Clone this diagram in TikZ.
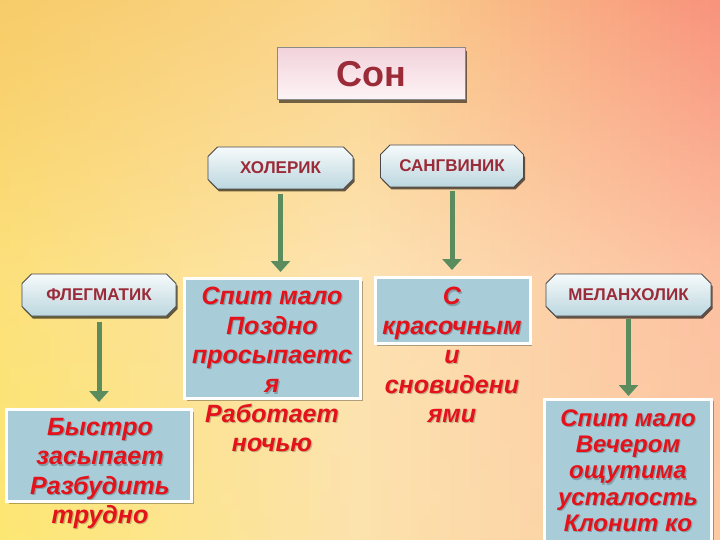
\documentclass[tikz,border=0pt]{standalone}
\usepackage{fontspec}
\setmainfont{Liberation Sans}
\usetikzlibrary{shapes.misc,shadows,arrows.meta}
\definecolor{bgTL}{HTML}{F7CB68}
\definecolor{bgTC}{HTML}{FAD48C}
\definecolor{bgTR}{HTML}{F8927C}
\definecolor{bgML}{HTML}{FCE07A}
\definecolor{bgMC}{HTML}{FDE3B2}
\definecolor{bgMR}{HTML}{FCBFA0}
\definecolor{bgBL}{HTML}{FDE772}
\definecolor{bgBC}{HTML}{FCE2AC}
\definecolor{bgBR}{HTML}{FCC9A2}
\definecolor{DarkRed}{HTML}{9B2B38}
\definecolor{TxtRed}{HTML}{E3121B}
\definecolor{TitleTop}{HTML}{F2D2DB}
\definecolor{TitleBot}{HTML}{FDF4F6}
\definecolor{TitleBorder}{HTML}{8A8A8A}
\definecolor{OctTop}{HTML}{F6FAFB}
\definecolor{OctBot}{HTML}{BCD7DF}
\definecolor{OctBorder}{HTML}{4A4A4A}
\definecolor{BoxFill}{HTML}{A9CDD8}
\definecolor{ArrowGreen}{HTML}{5B8C5E}
\tikzset{
  titlebox/.style={draw=TitleBorder, line width=1pt, top color=TitleTop, bottom color=TitleBot,
    minimum width=188pt, minimum height=52pt, inner sep=0pt,
    font=\fontsize{36}{40}\selectfont\bfseries, text=DarkRed,
    drop shadow={shadow xshift=2pt, shadow yshift=-3pt, fill=black, opacity=0.55}},
  tempbox/.style={chamfered rectangle, chamfered rectangle xsep=9pt, draw=OctBorder, line width=0.8pt,
    top color=OctTop, bottom color=OctBot, minimum height=42pt, inner sep=0pt,
    font=\fontsize{17}{20}\selectfont\bfseries, text=DarkRed,
    drop shadow={shadow xshift=1.5pt, shadow yshift=-2.5pt, fill=black, opacity=0.6}},
  descbox/.style={draw=white, line width=3pt, fill=BoxFill, inner sep=0pt,
    drop shadow={shadow xshift=2pt, shadow yshift=-2pt, fill=black, opacity=0.3}},
  desctext/.style={font=\fontsize{25}{29.4}\selectfont\bfseries\itshape, text=TxtRed, align=center, inner sep=0pt},
  descshadow/.style={desctext, text=black, text opacity=0.22},
  greenarrow/.style={draw=ArrowGreen, line width=5pt, -{Triangle[width=19pt,length=11pt]}}
}
\begin{document}
\begin{tikzpicture}[x=1pt,y=-1pt]
\useasboundingbox (0,0) rectangle (720,540);
\clip (0,0) rectangle (720,540);
% background
\foreach \i in {0,...,71}{
  \pgfmathsetmacro\xa{10*\i}
  \pgfmathsetmacro\xb{10*\i+10.8}
  \pgfmathtruncatemacro\k{\i<36 ? 1 : 0}
  \pgfmathtruncatemacro\p{\i<36 ? 100-100*(\i+0.5)/36 : 100-100*(\i-35.5)/36}
  \ifnum\k=1
    \colorlet{cT}{bgTL!\p!bgTC}\colorlet{cM}{bgML!\p!bgMC}\colorlet{cB}{bgBL!\p!bgBC}
  \else
    \colorlet{cT}{bgTC!\p!bgTR}\colorlet{cM}{bgMC!\p!bgMR}\colorlet{cB}{bgBC!\p!bgBR}
  \fi
  \shade[top color=cT,bottom color=cM] (\xa,0) rectangle (\xb,271);
  \shade[top color=cM,bottom color=cB] (\xa,270) rectangle (\xb,540);
}
% title
\node[titlebox] (son) at (371,74) {Сон};
% temperaments
\node[tempbox, minimum width=145pt] (hol) at (280.5,168) {ХОЛЕРИК};
\node[tempbox, minimum width=143pt] (san) at (452,166) {САНГВИНИК};
\node[tempbox, minimum width=154pt] (fle) at (99,295) {ФЛЕГМАТИК};
\node[tempbox, minimum width=165pt] (mel) at (628.5,295) {МЕЛАНХОЛИК};
% description boxes
\node[descbox, minimum width=176pt, minimum height=120pt] (b1) at (272.5,338.5) {};
\node[descbox, minimum width=155pt, minimum height=66pt] (b2) at (452.5,310.5) {};
\node[descbox, minimum width=185pt, minimum height=92pt] (b3) at (99,455.5) {};
\node[descbox, minimum width=167pt, minimum height=150pt] (b4) at (628,474) {};
% arrows
\draw[greenarrow, shorten <=5pt, shorten >=5pt] (hol.south) -- (hol.south |- b1.north);
\draw[greenarrow, shorten <=4pt, shorten >=6pt] (san.south) -- (san.south |- b2.north);
\draw[greenarrow, shorten <=6pt, shorten >=6pt] (fle.south) -- (fle.south |- b3.north);
\draw[greenarrow, shorten <=3pt, shorten >=1.5pt] (mel.south) -- (mel.south |- b4.north);
% texts
\node[descshadow] (t1s) at (273.2,370.8) {Спит мало\\Поздно\\просыпаетс\\я\\Работает\\ночью};
\node[desctext] (t1) at (272,369.5) {Спит мало\\Поздно\\просыпаетс\\я\\Работает\\ночью};
\node[descshadow] (t2s) at (453.2,356.3) {С\\красочным\\и\\сновидени\\ями};
\node[desctext] (t2) at (452,355) {С\\красочным\\и\\сновидени\\ями};
\node[descshadow] (t3s) at (101.2,474.8) {Быстро\\засыпает\\Разбудить\\трудно};
\node[desctext] (t3) at (100,473.5) {Быстро\\засыпает\\Разбудить\\трудно};
\node[descshadow, font=\fontsize{24}{26.3}\selectfont\bfseries\itshape] (t4s) at (629.2,471.8) {Спит мало\\Вечером\\ощутима\\усталость\\Клонит ко};
\node[desctext, font=\fontsize{24}{26.3}\selectfont\bfseries\itshape] (t4) at (628,470.5) {Спит мало\\Вечером\\ощутима\\усталость\\Клонит ко};
\end{tikzpicture}
\end{document}
